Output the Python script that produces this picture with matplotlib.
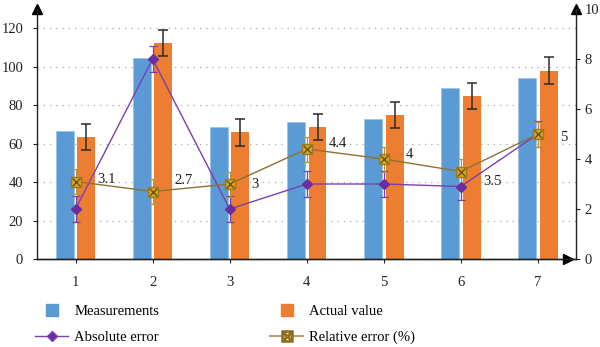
import matplotlib
matplotlib.use("Agg")
import matplotlib.pyplot as plt
from matplotlib.lines import Line2D
import numpy as np

plt.rcParams['font.family'] = ['Liberation Serif', 'DejaVu Serif']

categories = ["1", "2", "3", "4", "5", "6", "7"]
measurements = [66.5, 104.3, 68.6, 71.0, 72.6, 88.8, 93.9]
actual_value = [63.5, 112.5, 65.8, 68.6, 74.8, 84.7, 98.0]
actual_err = [6.8, 6.8, 6.8, 6.8, 6.8, 6.8, 6.8]
absolute_error = [2.0, 8.0, 2.0, 3.0, 3.0, 2.9, 5.0]
absolute_err = [0.53, 0.53, 0.53, 0.53, 0.53, 0.53, 0.53]
relative_error = [3.1, 2.7, 3.0, 4.4, 4.0, 3.5, 5.0]
relative_err = [0.5, 0.5, 0.5, 0.5, 0.5, 0.5, 0.5]
rel_labels = ["3.1", "2.7", "3", "4.4", "4", "3.5", "5"]
left_ticks = [0, 20, 40, 60, 80, 100, 120]
right_ticks = [0, 2, 4, 6, 8, 10]

# label vertical offsets in pixels
label_dy = [2, 11, 0, 6, 5, -10, -3]

BLUE = "#5B9BD5"
ORANGE = "#ED7D31"
PURPLE = "#7B3FB0"
BROWN = "#8E7234"
GOLD = "#D9A520"

fig = plt.figure(figsize=(6.0, 3.47), dpi=100)
ax = fig.add_axes([0.0617, 0.2536, 0.899, 0.7204])
ax2 = ax.twinx()

x = np.arange(1, len(categories) + 1)
w = 0.233
off = 0.14
ax.bar(x - off, measurements, width=w, color=BLUE, edgecolor="#9CC3E8", linewidth=0.6, zorder=2)
ax.bar(x + off, actual_value, width=w, color=ORANGE, zorder=2)
ax.errorbar(x + off, actual_value, yerr=actual_err, fmt='none', ecolor="#2b2b2b",
            elinewidth=1.1, capsize=3.5, capthick=1.1, zorder=3)

ax.set_xlim(0.5, 7.5)
ax.set_ylim(0, 130)
ax.set_yticks(left_ticks)
ax.set_xticks(x)
ax.set_xticklabels(categories)
ax.yaxis.grid(True, linestyle=(0, (1, 4)), color="#aaaaaa", linewidth=0.9, zorder=0)
ax.set_axisbelow(True)

ax2.set_ylim(0, 10)
ax2.set_yticks(right_ticks)

# lines
ax2.errorbar(x, absolute_error, yerr=absolute_err, fmt='none', ecolor=PURPLE,
             elinewidth=0.9, capsize=3, capthick=0.9, zorder=3)
ax2.errorbar(x, relative_error, yerr=relative_err, fmt='none', ecolor="#B8963A",
             elinewidth=0.9, capsize=3, capthick=0.9, zorder=3)
ax2.plot(x, absolute_error, color=PURPLE, lw=1.0, marker='D', markersize=5,
         markerfacecolor="#6A2E9E", markeredgecolor="#6A2E9E", zorder=4)
ax2.plot(x, relative_error, color=BROWN, lw=1.0, marker='s', markersize=7.5,
         markerfacecolor=GOLD, markeredgecolor="#9A7A20", zorder=5)
ax2.plot(x, relative_error, ls='none', marker='x', markersize=5.5,
         markeredgecolor="#6B5414", markeredgewidth=1.0, zorder=6)

for xi, yi, lab, dy in zip(x, relative_error, rel_labels, label_dy):
    ax2.annotate(lab, (xi, yi), xytext=(22 * 0.72, dy * 0.72), textcoords='offset points',
                 ha='left', va='center', fontsize=10.5, color="#222222", zorder=7)

for a in (ax, ax2):
    a.spines['top'].set_visible(False)
    for s in a.spines.values():
        s.set_linewidth(1.0)
        s.set_color("#222222")
    a.tick_params(labelsize=10.5, colors="#222222", length=3, width=0.8)
ax2.spines['left'].set_visible(False)
ax.spines['right'].set_visible(False)
ax.tick_params(axis='x', pad=9)
ax.tick_params(axis='y', pad=7)
ax2.tick_params(axis='y', pad=3)

# arrows
ax.plot([0], [1], marker='^', color='black', markersize=7, transform=ax.transAxes, clip_on=False)
ax.plot([1], [1], marker='^', color='black', markersize=7, transform=ax.transAxes, clip_on=False)
ax.plot([0.985], [0], marker='>', color='black', markersize=7, transform=ax.transAxes, clip_on=False)

handles = [
    Line2D([], [], ls='none', marker='s', markersize=8, color=BLUE),
    Line2D([], [], color=PURPLE, lw=1.0, marker='D', markersize=5, markerfacecolor="#6A2E9E"),
    Line2D([], [], ls='none', marker='s', markersize=8, color=ORANGE),
    Line2D([], [], color="#B8A070", lw=1.5, marker='$\\boxtimes$', markersize=8,
           markerfacecolor=GOLD, markeredgecolor="#8E6E1A"),
]
labels = ["Measurements", "Absolute error", "Actual value", "Relative error (%)"]
fig.legend(handles, labels, ncol=2, loc='upper left', bbox_to_anchor=(0.058, 0.121),
           frameon=False, fontsize=10.5, handlelength=2.3, handletextpad=0.4,
           columnspacing=7.6, labelspacing=0.85, borderpad=0, borderaxespad=0)

fig.savefig("out.png", dpi=100)
